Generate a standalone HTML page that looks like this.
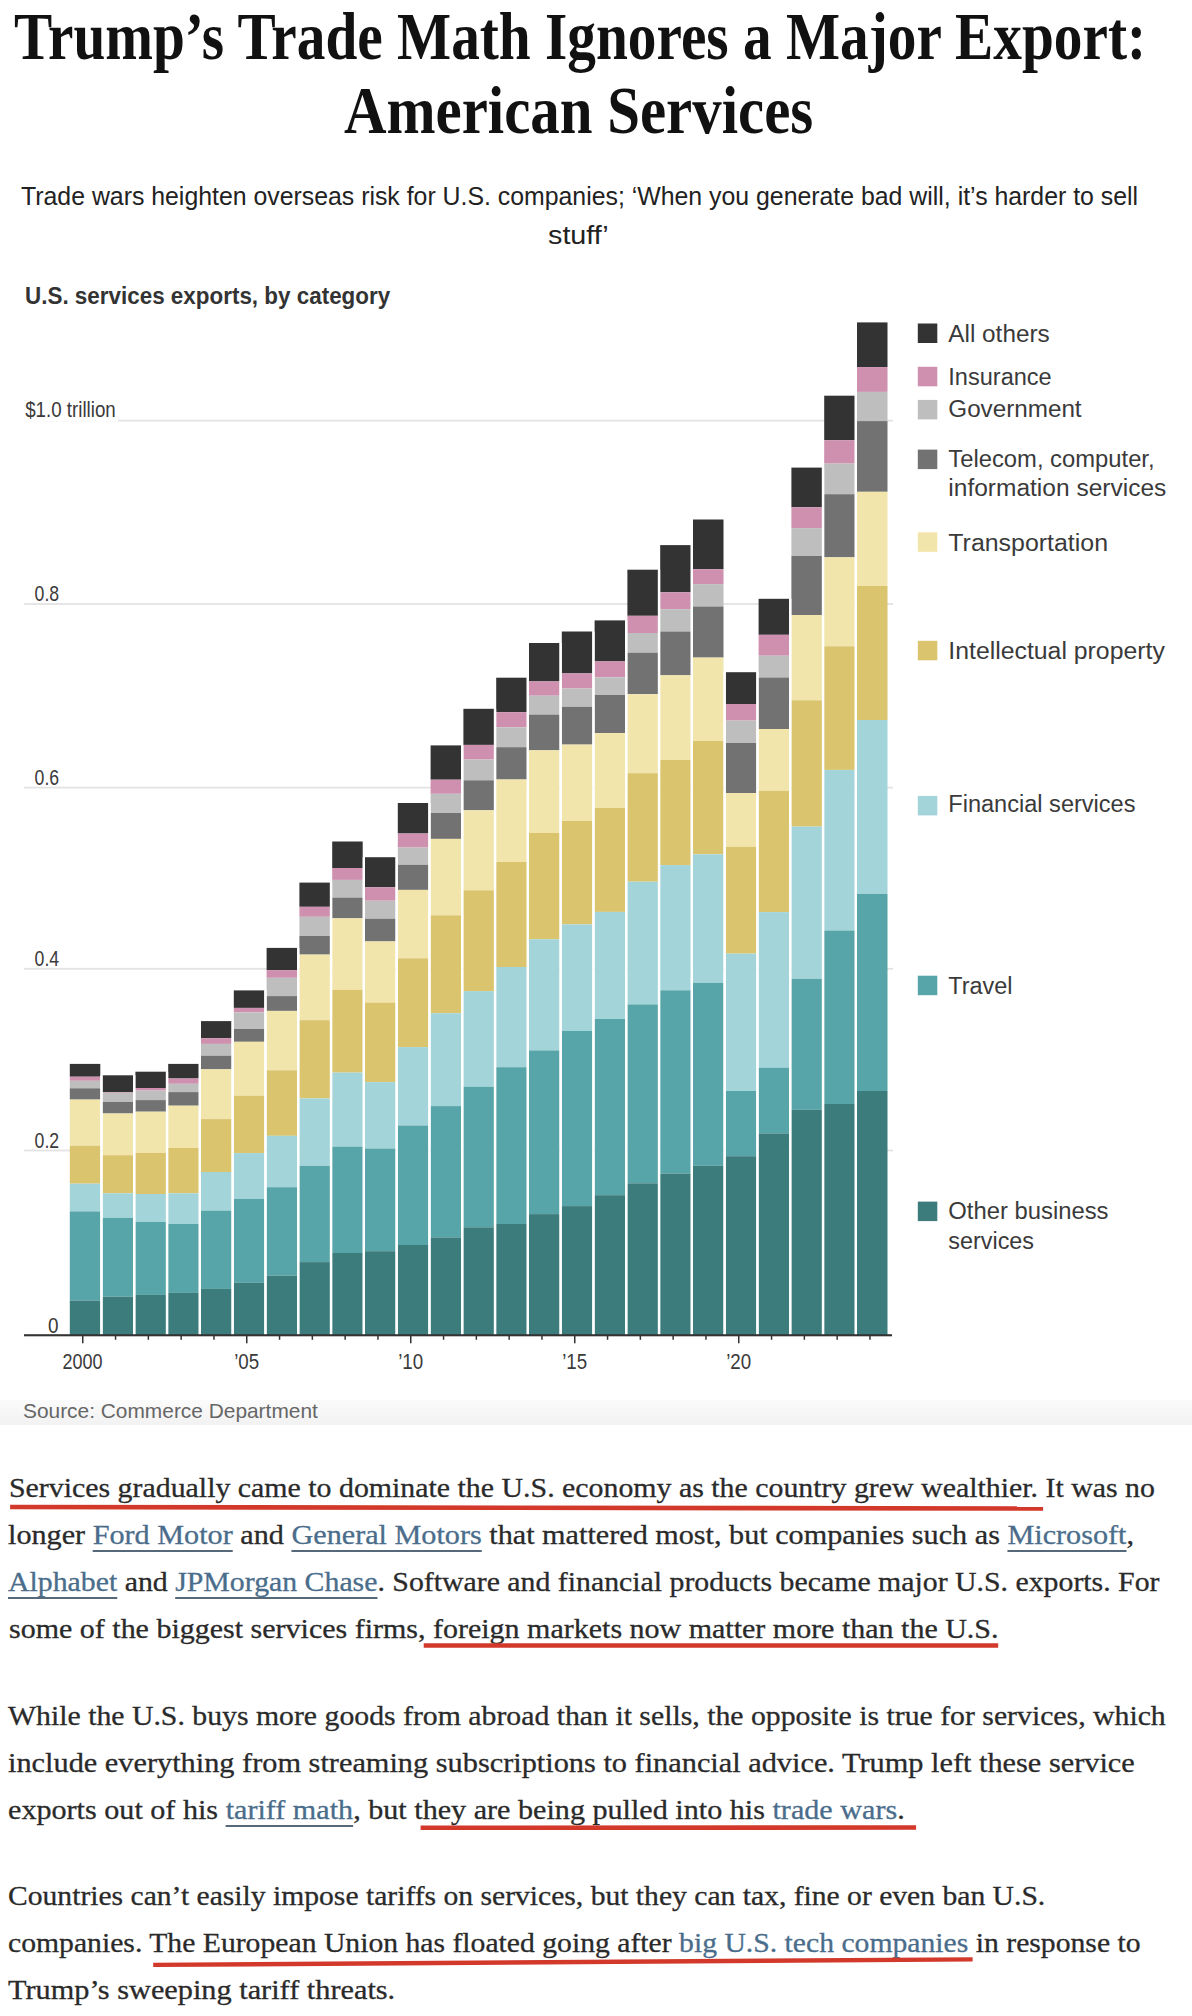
<!DOCTYPE html>
<html lang="en"><head><meta charset="utf-8"><title>Trump’s Trade Math Ignores a Major Export: American Services</title>
<style>
html,body{margin:0;padding:0;background:#fff;}
body{width:1192px;height:2016px;position:relative;overflow:hidden;}
.hl{position:absolute;left:0;width:1192px;margin:0;font-family:"Liberation Serif",serif;font-weight:700;font-size:68px;line-height:68px;color:#111;white-space:nowrap;}
.hl span{position:absolute;white-space:nowrap;transform-origin:0 0;}
.sub{position:absolute;left:0;width:1192px;margin:0;font-weight:400;font-family:"Liberation Sans",sans-serif;font-size:25px;line-height:25px;color:#222;white-space:nowrap;}
.sub span{position:absolute;white-space:nowrap;transform-origin:0 0;}
.ctitle{position:absolute;margin:0;left:25px;top:0;font-family:"Liberation Sans",sans-serif;font-weight:700;font-size:23px;line-height:23px;color:#333;white-space:nowrap;transform-origin:0 0;}
svg.chart{position:absolute;left:0;top:0;}
.src{position:absolute;left:0;top:1400px;width:1192px;height:25px;background:linear-gradient(#fbfbfb,#f2f2f2);}
.src span{position:absolute;left:24px;top:0;font-family:"Liberation Sans",sans-serif;font-size:21px;line-height:21px;color:#666;white-space:nowrap;transform-origin:0 0;}
.ln{position:absolute;margin:0;transform-origin:0 0;-webkit-text-stroke:0.3px currentColor;font-family:"Liberation Serif",serif;font-size:28px;line-height:28px;color:#2a2a2a;white-space:nowrap;}
.ln a{color:#4a6d8b;text-decoration:underline;text-decoration-color:#55697a;text-decoration-thickness:1.5px;text-underline-offset:6px;text-decoration-skip-ink:none;}
.ln a.nr{text-decoration:none;}
svg.red{position:absolute;left:0;top:0;pointer-events:none;}
</style></head>
<body>
<h1 class="hl" style="top:0"><span id="t1" style="left:14.00px;top:1.75px;transform:scaleX(0.8426)">Trump’s Trade Math Ignores a Major Export:</span><span id="t2" style="left:344.40px;top:76.25px;transform:scaleX(0.8658)">American Services</span></h1>
<h2 class="sub" style="top:0"><span id="s1" style="left:20.60px;top:184.04px;transform:scaleX(0.9937)">Trade wars heighten overseas risk for U.S. companies; ‘When you generate bad will, it’s harder to sell</span><span id="s2" style="left:548.00px;top:222.64px;transform:scaleX(1.1500)">stuff’</span></h2>
<h3 class="ctitle" id="ct" style="left:25.00px;top:285.23px;transform:scaleX(0.9750)">U.S. services exports, by category</h3>
<svg class="chart" width="1192" height="1400" viewBox="0 0 1192 1400"><rect x="24" y="419.7" width="869" height="1.8" fill="#e3e3e3"/><rect x="24" y="603.1" width="869" height="1.8" fill="#e3e3e3"/><rect x="24" y="786.7" width="869" height="1.8" fill="#e3e3e3"/><rect x="24" y="967.9" width="869" height="1.8" fill="#e3e3e3"/><rect x="24" y="1149.6" width="869" height="1.8" fill="#e3e3e3"/><rect x="69.8" y="1063.9" width="30.5" height="12.8" fill="#333333"/><rect x="69.8" y="1076.7" width="30.5" height="4.1" fill="#cf90af"/><rect x="69.8" y="1080.8" width="30.5" height="7.5" fill="#bebebe"/><rect x="69.8" y="1088.3" width="30.5" height="11.3" fill="#727272"/><rect x="69.8" y="1099.6" width="30.5" height="46.1" fill="#f2e5ab"/><rect x="69.8" y="1145.7" width="30.5" height="38" fill="#dac46d"/><rect x="69.8" y="1183.7" width="30.5" height="27.7" fill="#a2d4da"/><rect x="69.8" y="1211.4" width="30.5" height="89.1" fill="#57a5a8"/><rect x="69.8" y="1300.5" width="30.5" height="34.8" fill="#3d7c7d"/><rect x="102.6" y="1075.3" width="30.5" height="16.8" fill="#333333"/><rect x="102.6" y="1092.1" width="30.5" height="0.7" fill="#cf90af"/><rect x="102.6" y="1092.8" width="30.5" height="9.1" fill="#bebebe"/><rect x="102.6" y="1101.9" width="30.5" height="11.6" fill="#727272"/><rect x="102.6" y="1113.5" width="30.5" height="41.7" fill="#f2e5ab"/><rect x="102.6" y="1155.2" width="30.5" height="38.1" fill="#dac46d"/><rect x="102.6" y="1193.3" width="30.5" height="24.6" fill="#a2d4da"/><rect x="102.6" y="1217.9" width="30.5" height="78.8" fill="#57a5a8"/><rect x="102.6" y="1296.7" width="30.5" height="38.6" fill="#3d7c7d"/><rect x="135.4" y="1071.7" width="30.5" height="16.3" fill="#333333"/><rect x="135.4" y="1088" width="30.5" height="2.6" fill="#cf90af"/><rect x="135.4" y="1090.6" width="30.5" height="9.5" fill="#bebebe"/><rect x="135.4" y="1100.1" width="30.5" height="11.6" fill="#727272"/><rect x="135.4" y="1111.7" width="30.5" height="41.2" fill="#f2e5ab"/><rect x="135.4" y="1152.9" width="30.5" height="41.1" fill="#dac46d"/><rect x="135.4" y="1194" width="30.5" height="28" fill="#a2d4da"/><rect x="135.4" y="1222" width="30.5" height="72.9" fill="#57a5a8"/><rect x="135.4" y="1294.9" width="30.5" height="40.4" fill="#3d7c7d"/><rect x="168.2" y="1063.9" width="30.5" height="14.6" fill="#333333"/><rect x="168.2" y="1078.5" width="30.5" height="5.3" fill="#cf90af"/><rect x="168.2" y="1083.8" width="30.5" height="8.3" fill="#bebebe"/><rect x="168.2" y="1092.1" width="30.5" height="13.6" fill="#727272"/><rect x="168.2" y="1105.7" width="30.5" height="42.3" fill="#f2e5ab"/><rect x="168.2" y="1148" width="30.5" height="45.3" fill="#dac46d"/><rect x="168.2" y="1193.3" width="30.5" height="30.6" fill="#a2d4da"/><rect x="168.2" y="1223.9" width="30.5" height="69" fill="#57a5a8"/><rect x="168.2" y="1292.9" width="30.5" height="42.4" fill="#3d7c7d"/><rect x="201" y="1021.1" width="30.5" height="17.1" fill="#333333"/><rect x="201" y="1038.2" width="30.5" height="5.7" fill="#cf90af"/><rect x="201" y="1043.9" width="30.5" height="11.8" fill="#bebebe"/><rect x="201" y="1055.7" width="30.5" height="13.6" fill="#727272"/><rect x="201" y="1069.3" width="30.5" height="49.8" fill="#f2e5ab"/><rect x="201" y="1119.1" width="30.5" height="52.9" fill="#dac46d"/><rect x="201" y="1172" width="30.5" height="38.6" fill="#a2d4da"/><rect x="201" y="1210.6" width="30.5" height="78.3" fill="#57a5a8"/><rect x="201" y="1288.9" width="30.5" height="46.4" fill="#3d7c7d"/><rect x="233.8" y="990.4" width="30.5" height="17.5" fill="#333333"/><rect x="233.8" y="1007.9" width="30.5" height="4.5" fill="#cf90af"/><rect x="233.8" y="1012.4" width="30.5" height="16.6" fill="#bebebe"/><rect x="233.8" y="1029" width="30.5" height="12.8" fill="#727272"/><rect x="233.8" y="1041.8" width="30.5" height="53.9" fill="#f2e5ab"/><rect x="233.8" y="1095.7" width="30.5" height="57.4" fill="#dac46d"/><rect x="233.8" y="1153.1" width="30.5" height="45.7" fill="#a2d4da"/><rect x="233.8" y="1198.8" width="30.5" height="84" fill="#57a5a8"/><rect x="233.8" y="1282.8" width="30.5" height="52.5" fill="#3d7c7d"/><rect x="266.6" y="947.9" width="30.5" height="22.2" fill="#333333"/><rect x="266.6" y="970.1" width="30.5" height="7.7" fill="#cf90af"/><rect x="266.6" y="977.8" width="30.5" height="18.3" fill="#bebebe"/><rect x="266.6" y="996.1" width="30.5" height="14.8" fill="#727272"/><rect x="266.6" y="1010.9" width="30.5" height="59.4" fill="#f2e5ab"/><rect x="266.6" y="1070.3" width="30.5" height="65.5" fill="#dac46d"/><rect x="266.6" y="1135.8" width="30.5" height="51.4" fill="#a2d4da"/><rect x="266.6" y="1187.2" width="30.5" height="88.5" fill="#57a5a8"/><rect x="266.6" y="1275.7" width="30.5" height="59.6" fill="#3d7c7d"/><rect x="299.4" y="882.6" width="30.5" height="24.2" fill="#333333"/><rect x="299.4" y="906.8" width="30.5" height="10" fill="#cf90af"/><rect x="299.4" y="916.8" width="30.5" height="19.2" fill="#bebebe"/><rect x="299.4" y="936" width="30.5" height="18.6" fill="#727272"/><rect x="299.4" y="954.6" width="30.5" height="65.6" fill="#f2e5ab"/><rect x="299.4" y="1020.2" width="30.5" height="78.2" fill="#dac46d"/><rect x="299.4" y="1098.4" width="30.5" height="67.5" fill="#a2d4da"/><rect x="299.4" y="1165.9" width="30.5" height="96.2" fill="#57a5a8"/><rect x="299.4" y="1262.1" width="30.5" height="73.2" fill="#3d7c7d"/><rect x="332.2" y="841.5" width="30.5" height="26.5" fill="#333333"/><rect x="332.2" y="868" width="30.5" height="11.9" fill="#cf90af"/><rect x="332.2" y="879.9" width="30.5" height="17.7" fill="#bebebe"/><rect x="332.2" y="897.6" width="30.5" height="20.7" fill="#727272"/><rect x="332.2" y="918.3" width="30.5" height="71.5" fill="#f2e5ab"/><rect x="332.2" y="989.8" width="30.5" height="82.8" fill="#dac46d"/><rect x="332.2" y="1072.6" width="30.5" height="74" fill="#a2d4da"/><rect x="332.2" y="1146.6" width="30.5" height="106.4" fill="#57a5a8"/><rect x="332.2" y="1253" width="30.5" height="82.3" fill="#3d7c7d"/><rect x="365" y="857.2" width="30.5" height="30.1" fill="#333333"/><rect x="365" y="887.3" width="30.5" height="13.4" fill="#cf90af"/><rect x="365" y="900.7" width="30.5" height="18" fill="#bebebe"/><rect x="365" y="918.7" width="30.5" height="22.7" fill="#727272"/><rect x="365" y="941.4" width="30.5" height="61.2" fill="#f2e5ab"/><rect x="365" y="1002.6" width="30.5" height="79.5" fill="#dac46d"/><rect x="365" y="1082.1" width="30.5" height="66.4" fill="#a2d4da"/><rect x="365" y="1148.5" width="30.5" height="102.7" fill="#57a5a8"/><rect x="365" y="1251.2" width="30.5" height="84.1" fill="#3d7c7d"/><rect x="397.8" y="803" width="30.5" height="30.5" fill="#333333"/><rect x="397.8" y="833.5" width="30.5" height="14.1" fill="#cf90af"/><rect x="397.8" y="847.6" width="30.5" height="17.2" fill="#bebebe"/><rect x="397.8" y="864.8" width="30.5" height="25.1" fill="#727272"/><rect x="397.8" y="889.9" width="30.5" height="68.4" fill="#f2e5ab"/><rect x="397.8" y="958.3" width="30.5" height="88.8" fill="#dac46d"/><rect x="397.8" y="1047.1" width="30.5" height="78.4" fill="#a2d4da"/><rect x="397.8" y="1125.5" width="30.5" height="119.5" fill="#57a5a8"/><rect x="397.8" y="1245" width="30.5" height="90.3" fill="#3d7c7d"/><rect x="430.6" y="745.4" width="30.5" height="34.3" fill="#333333"/><rect x="430.6" y="779.7" width="30.5" height="14.1" fill="#cf90af"/><rect x="430.6" y="793.8" width="30.5" height="19.2" fill="#bebebe"/><rect x="430.6" y="813" width="30.5" height="25.9" fill="#727272"/><rect x="430.6" y="838.9" width="30.5" height="76.4" fill="#f2e5ab"/><rect x="430.6" y="915.3" width="30.5" height="97.9" fill="#dac46d"/><rect x="430.6" y="1013.2" width="30.5" height="92.9" fill="#a2d4da"/><rect x="430.6" y="1106.1" width="30.5" height="131.3" fill="#57a5a8"/><rect x="430.6" y="1237.4" width="30.5" height="97.9" fill="#3d7c7d"/><rect x="463.4" y="708.8" width="30.5" height="36.1" fill="#333333"/><rect x="463.4" y="744.9" width="30.5" height="14.6" fill="#cf90af"/><rect x="463.4" y="759.5" width="30.5" height="20.8" fill="#bebebe"/><rect x="463.4" y="780.3" width="30.5" height="30" fill="#727272"/><rect x="463.4" y="810.3" width="30.5" height="80" fill="#f2e5ab"/><rect x="463.4" y="890.3" width="30.5" height="100.8" fill="#dac46d"/><rect x="463.4" y="991.1" width="30.5" height="95.6" fill="#a2d4da"/><rect x="463.4" y="1086.7" width="30.5" height="140.6" fill="#57a5a8"/><rect x="463.4" y="1227.3" width="30.5" height="108" fill="#3d7c7d"/><rect x="496.2" y="677.7" width="30.5" height="34.5" fill="#333333"/><rect x="496.2" y="712.2" width="30.5" height="15.1" fill="#cf90af"/><rect x="496.2" y="727.3" width="30.5" height="19.9" fill="#bebebe"/><rect x="496.2" y="747.2" width="30.5" height="32.3" fill="#727272"/><rect x="496.2" y="779.5" width="30.5" height="82.5" fill="#f2e5ab"/><rect x="496.2" y="862" width="30.5" height="105" fill="#dac46d"/><rect x="496.2" y="967" width="30.5" height="100.2" fill="#a2d4da"/><rect x="496.2" y="1067.2" width="30.5" height="156.8" fill="#57a5a8"/><rect x="496.2" y="1224" width="30.5" height="111.3" fill="#3d7c7d"/><rect x="529" y="643" width="30.5" height="38.4" fill="#333333"/><rect x="529" y="681.4" width="30.5" height="14.3" fill="#cf90af"/><rect x="529" y="695.7" width="30.5" height="18.9" fill="#bebebe"/><rect x="529" y="714.6" width="30.5" height="35.7" fill="#727272"/><rect x="529" y="750.3" width="30.5" height="82.7" fill="#f2e5ab"/><rect x="529" y="833" width="30.5" height="106.3" fill="#dac46d"/><rect x="529" y="939.3" width="30.5" height="111.1" fill="#a2d4da"/><rect x="529" y="1050.4" width="30.5" height="163.7" fill="#57a5a8"/><rect x="529" y="1214.1" width="30.5" height="121.2" fill="#3d7c7d"/><rect x="561.8" y="631.5" width="30.5" height="41.9" fill="#333333"/><rect x="561.8" y="673.4" width="30.5" height="15.1" fill="#cf90af"/><rect x="561.8" y="688.5" width="30.5" height="18.3" fill="#bebebe"/><rect x="561.8" y="706.8" width="30.5" height="37.8" fill="#727272"/><rect x="561.8" y="744.6" width="30.5" height="76.4" fill="#f2e5ab"/><rect x="561.8" y="821" width="30.5" height="103.4" fill="#dac46d"/><rect x="561.8" y="924.4" width="30.5" height="106.6" fill="#a2d4da"/><rect x="561.8" y="1031" width="30.5" height="175.1" fill="#57a5a8"/><rect x="561.8" y="1206.1" width="30.5" height="129.2" fill="#3d7c7d"/><rect x="594.6" y="620.4" width="30.5" height="41" fill="#333333"/><rect x="594.6" y="661.4" width="30.5" height="15.9" fill="#cf90af"/><rect x="594.6" y="677.3" width="30.5" height="17.7" fill="#bebebe"/><rect x="594.6" y="695" width="30.5" height="38.1" fill="#727272"/><rect x="594.6" y="733.1" width="30.5" height="74.9" fill="#f2e5ab"/><rect x="594.6" y="808" width="30.5" height="103.9" fill="#dac46d"/><rect x="594.6" y="911.9" width="30.5" height="107.1" fill="#a2d4da"/><rect x="594.6" y="1019" width="30.5" height="176.2" fill="#57a5a8"/><rect x="594.6" y="1195.2" width="30.5" height="140.1" fill="#3d7c7d"/><rect x="627.4" y="569.7" width="30.5" height="46.1" fill="#333333"/><rect x="627.4" y="615.8" width="30.5" height="17.2" fill="#cf90af"/><rect x="627.4" y="633" width="30.5" height="19.7" fill="#bebebe"/><rect x="627.4" y="652.7" width="30.5" height="41.5" fill="#727272"/><rect x="627.4" y="694.2" width="30.5" height="79" fill="#f2e5ab"/><rect x="627.4" y="773.2" width="30.5" height="108.5" fill="#dac46d"/><rect x="627.4" y="881.7" width="30.5" height="122.7" fill="#a2d4da"/><rect x="627.4" y="1004.4" width="30.5" height="178.9" fill="#57a5a8"/><rect x="627.4" y="1183.3" width="30.5" height="152" fill="#3d7c7d"/><rect x="660.2" y="545.1" width="30.5" height="47.2" fill="#333333"/><rect x="660.2" y="592.3" width="30.5" height="16.9" fill="#cf90af"/><rect x="660.2" y="609.2" width="30.5" height="22.3" fill="#bebebe"/><rect x="660.2" y="631.5" width="30.5" height="43.8" fill="#727272"/><rect x="660.2" y="675.3" width="30.5" height="84.7" fill="#f2e5ab"/><rect x="660.2" y="760" width="30.5" height="105.1" fill="#dac46d"/><rect x="660.2" y="865.1" width="30.5" height="125.2" fill="#a2d4da"/><rect x="660.2" y="990.3" width="30.5" height="183.3" fill="#57a5a8"/><rect x="660.2" y="1173.6" width="30.5" height="161.7" fill="#3d7c7d"/><rect x="693" y="519.5" width="30.5" height="49.7" fill="#333333"/><rect x="693" y="569.2" width="30.5" height="14.9" fill="#cf90af"/><rect x="693" y="584.1" width="30.5" height="22.4" fill="#bebebe"/><rect x="693" y="606.5" width="30.5" height="51.1" fill="#727272"/><rect x="693" y="657.6" width="30.5" height="83.4" fill="#f2e5ab"/><rect x="693" y="741" width="30.5" height="113.3" fill="#dac46d"/><rect x="693" y="854.3" width="30.5" height="128.5" fill="#a2d4da"/><rect x="693" y="982.8" width="30.5" height="183" fill="#57a5a8"/><rect x="693" y="1165.8" width="30.5" height="169.5" fill="#3d7c7d"/><rect x="725.8" y="672.2" width="30.5" height="31.8" fill="#333333"/><rect x="725.8" y="704" width="30.5" height="16.6" fill="#cf90af"/><rect x="725.8" y="720.6" width="30.5" height="22.4" fill="#bebebe"/><rect x="725.8" y="743" width="30.5" height="50.1" fill="#727272"/><rect x="725.8" y="793.1" width="30.5" height="53.7" fill="#f2e5ab"/><rect x="725.8" y="846.8" width="30.5" height="106.8" fill="#dac46d"/><rect x="725.8" y="953.6" width="30.5" height="137.4" fill="#a2d4da"/><rect x="725.8" y="1091" width="30.5" height="65.2" fill="#57a5a8"/><rect x="725.8" y="1156.2" width="30.5" height="179.1" fill="#3d7c7d"/><rect x="758.6" y="598.8" width="30.5" height="36" fill="#333333"/><rect x="758.6" y="634.8" width="30.5" height="20.9" fill="#cf90af"/><rect x="758.6" y="655.7" width="30.5" height="21.8" fill="#bebebe"/><rect x="758.6" y="677.5" width="30.5" height="51.5" fill="#727272"/><rect x="758.6" y="729" width="30.5" height="61.7" fill="#f2e5ab"/><rect x="758.6" y="790.7" width="30.5" height="121.4" fill="#dac46d"/><rect x="758.6" y="912.1" width="30.5" height="155.5" fill="#a2d4da"/><rect x="758.6" y="1067.6" width="30.5" height="65.8" fill="#57a5a8"/><rect x="758.6" y="1133.4" width="30.5" height="201.9" fill="#3d7c7d"/><rect x="791.4" y="467.6" width="30.5" height="39.7" fill="#333333"/><rect x="791.4" y="507.3" width="30.5" height="20.8" fill="#cf90af"/><rect x="791.4" y="528.1" width="30.5" height="27.9" fill="#bebebe"/><rect x="791.4" y="556" width="30.5" height="59" fill="#727272"/><rect x="791.4" y="615" width="30.5" height="85.3" fill="#f2e5ab"/><rect x="791.4" y="700.3" width="30.5" height="126.3" fill="#dac46d"/><rect x="791.4" y="826.6" width="30.5" height="152.2" fill="#a2d4da"/><rect x="791.4" y="978.8" width="30.5" height="131" fill="#57a5a8"/><rect x="791.4" y="1109.8" width="30.5" height="225.5" fill="#3d7c7d"/><rect x="824.2" y="395.7" width="30.5" height="44.5" fill="#333333"/><rect x="824.2" y="440.2" width="30.5" height="23.4" fill="#cf90af"/><rect x="824.2" y="463.6" width="30.5" height="30.6" fill="#bebebe"/><rect x="824.2" y="494.2" width="30.5" height="63.1" fill="#727272"/><rect x="824.2" y="557.3" width="30.5" height="89" fill="#f2e5ab"/><rect x="824.2" y="646.3" width="30.5" height="123.6" fill="#dac46d"/><rect x="824.2" y="769.9" width="30.5" height="160.6" fill="#a2d4da"/><rect x="824.2" y="930.5" width="30.5" height="173.5" fill="#57a5a8"/><rect x="824.2" y="1104" width="30.5" height="231.3" fill="#3d7c7d"/><rect x="857" y="322.4" width="30.5" height="44.7" fill="#333333"/><rect x="857" y="367.1" width="30.5" height="24.8" fill="#cf90af"/><rect x="857" y="391.9" width="30.5" height="29.2" fill="#bebebe"/><rect x="857" y="421.1" width="30.5" height="70.7" fill="#727272"/><rect x="857" y="491.8" width="30.5" height="94.2" fill="#f2e5ab"/><rect x="857" y="586" width="30.5" height="134" fill="#dac46d"/><rect x="857" y="720" width="30.5" height="173.9" fill="#a2d4da"/><rect x="857" y="893.9" width="30.5" height="197.1" fill="#57a5a8"/><rect x="857" y="1091" width="30.5" height="244.3" fill="#3d7c7d"/><rect x="100.3" y="1075.3" width="2.3" height="260" fill="#fff"/><rect x="133.1" y="1075.3" width="2.3" height="260" fill="#fff"/><rect x="165.9" y="1071.7" width="2.3" height="263.6" fill="#fff"/><rect x="198.7" y="1063.9" width="2.3" height="271.4" fill="#fff"/><rect x="231.5" y="1021.1" width="2.3" height="314.2" fill="#fff"/><rect x="264.3" y="990.4" width="2.3" height="344.9" fill="#fff"/><rect x="297.1" y="947.9" width="2.3" height="387.4" fill="#fff"/><rect x="329.9" y="882.6" width="2.3" height="452.7" fill="#fff"/><rect x="362.7" y="857.2" width="2.3" height="478.1" fill="#fff"/><rect x="395.5" y="857.2" width="2.3" height="478.1" fill="#fff"/><rect x="428.3" y="803" width="2.3" height="532.3" fill="#fff"/><rect x="461.1" y="745.4" width="2.3" height="589.9" fill="#fff"/><rect x="493.9" y="708.8" width="2.3" height="626.5" fill="#fff"/><rect x="526.7" y="677.7" width="2.3" height="657.6" fill="#fff"/><rect x="559.5" y="643" width="2.3" height="692.3" fill="#fff"/><rect x="592.3" y="631.5" width="2.3" height="703.8" fill="#fff"/><rect x="625.1" y="620.4" width="2.3" height="714.9" fill="#fff"/><rect x="657.9" y="569.7" width="2.3" height="765.6" fill="#fff"/><rect x="690.7" y="545.1" width="2.3" height="790.2" fill="#fff"/><rect x="723.5" y="672.2" width="2.3" height="663.1" fill="#fff"/><rect x="756.3" y="672.2" width="2.3" height="663.1" fill="#fff"/><rect x="789.1" y="598.8" width="2.3" height="736.5" fill="#fff"/><rect x="821.9" y="467.6" width="2.3" height="867.7" fill="#fff"/><rect x="854.7" y="395.7" width="2.3" height="939.6" fill="#fff"/><rect x="22" y="399.6" width="96" height="22" fill="#fff"/><text x="25.2" y="417.3" font-family="Liberation Sans" font-size="21.5" fill="#3a3a3a" textLength="90.6" lengthAdjust="spacingAndGlyphs">$1.0 trillion</text><text x="34.6" y="601.4" font-family="Liberation Sans" font-size="21.5" fill="#3a3a3a" textLength="24.5" lengthAdjust="spacingAndGlyphs">0.8</text><text x="34.6" y="785" font-family="Liberation Sans" font-size="21.5" fill="#3a3a3a" textLength="24.5" lengthAdjust="spacingAndGlyphs">0.6</text><text x="34.6" y="966.2" font-family="Liberation Sans" font-size="21.5" fill="#3a3a3a" textLength="24.5" lengthAdjust="spacingAndGlyphs">0.4</text><text x="34.6" y="1147.9" font-family="Liberation Sans" font-size="21.5" fill="#3a3a3a" textLength="24.5" lengthAdjust="spacingAndGlyphs">0.2</text><text x="48" y="1332.5" font-family="Liberation Sans" font-size="21.5" fill="#3a3a3a" textLength="10.5" lengthAdjust="spacingAndGlyphs">0</text><rect x="24" y="1334.2" width="868" height="2.1" fill="#333"/><rect x="82" y="1335.3" width="1.5" height="8" fill="#333"/><rect x="114.8" y="1335.3" width="1.5" height="4.5" fill="#333"/><rect x="147.6" y="1335.3" width="1.5" height="4.5" fill="#333"/><rect x="180.4" y="1335.3" width="1.5" height="4.5" fill="#333"/><rect x="213.2" y="1335.3" width="1.5" height="4.5" fill="#333"/><rect x="246" y="1335.3" width="1.5" height="8" fill="#333"/><rect x="278.8" y="1335.3" width="1.5" height="4.5" fill="#333"/><rect x="311.6" y="1335.3" width="1.5" height="4.5" fill="#333"/><rect x="344.4" y="1335.3" width="1.5" height="4.5" fill="#333"/><rect x="377.2" y="1335.3" width="1.5" height="4.5" fill="#333"/><rect x="410" y="1335.3" width="1.5" height="8" fill="#333"/><rect x="442.8" y="1335.3" width="1.5" height="4.5" fill="#333"/><rect x="475.6" y="1335.3" width="1.5" height="4.5" fill="#333"/><rect x="508.4" y="1335.3" width="1.5" height="4.5" fill="#333"/><rect x="541.2" y="1335.3" width="1.5" height="4.5" fill="#333"/><rect x="574" y="1335.3" width="1.5" height="8" fill="#333"/><rect x="606.8" y="1335.3" width="1.5" height="4.5" fill="#333"/><rect x="639.6" y="1335.3" width="1.5" height="4.5" fill="#333"/><rect x="672.4" y="1335.3" width="1.5" height="4.5" fill="#333"/><rect x="705.2" y="1335.3" width="1.5" height="4.5" fill="#333"/><rect x="738" y="1335.3" width="1.5" height="8" fill="#333"/><rect x="770.8" y="1335.3" width="1.5" height="4.5" fill="#333"/><rect x="803.6" y="1335.3" width="1.5" height="4.5" fill="#333"/><rect x="836.4" y="1335.3" width="1.5" height="4.5" fill="#333"/><rect x="869.2" y="1335.3" width="1.5" height="4.5" fill="#333"/><text x="62.4" y="1369.2" font-family="Liberation Sans" font-size="21.5" fill="#3a3a3a" textLength="40" lengthAdjust="spacingAndGlyphs">2000</text><text x="234.2" y="1369.2" font-family="Liberation Sans" font-size="21.5" fill="#3a3a3a" textLength="25" lengthAdjust="spacingAndGlyphs">’05</text><text x="398.2" y="1369.2" font-family="Liberation Sans" font-size="21.5" fill="#3a3a3a" textLength="25" lengthAdjust="spacingAndGlyphs">’10</text><text x="562.2" y="1369.2" font-family="Liberation Sans" font-size="21.5" fill="#3a3a3a" textLength="25" lengthAdjust="spacingAndGlyphs">’15</text><text x="726.2" y="1369.2" font-family="Liberation Sans" font-size="21.5" fill="#3a3a3a" textLength="25" lengthAdjust="spacingAndGlyphs">’20</text><rect x="917.8" y="323.5" width="19.5" height="19.5" fill="#333333"/><text x="948.3" y="341.8" font-family="Liberation Sans" font-size="23" fill="#3a3a3a" textLength="101.4" lengthAdjust="spacingAndGlyphs">All others</text><rect x="917.8" y="366.8" width="19.5" height="19.5" fill="#cf90af"/><text x="948.3" y="384.7" font-family="Liberation Sans" font-size="23" fill="#3a3a3a" textLength="103.4" lengthAdjust="spacingAndGlyphs">Insurance</text><rect x="917.8" y="399.9" width="19.5" height="19.5" fill="#bebebe"/><text x="948.3" y="417" font-family="Liberation Sans" font-size="23" fill="#3a3a3a" textLength="133.3" lengthAdjust="spacingAndGlyphs">Government</text><rect x="917.8" y="449.6" width="19.5" height="19.5" fill="#727272"/><text x="948.3" y="466.8" font-family="Liberation Sans" font-size="23" fill="#3a3a3a" textLength="206.3" lengthAdjust="spacingAndGlyphs">Telecom, computer,</text><text x="948.3" y="496.2" font-family="Liberation Sans" font-size="23" fill="#3a3a3a" textLength="218.0" lengthAdjust="spacingAndGlyphs">information services</text><rect x="917.8" y="532.3" width="19.5" height="19.5" fill="#f2e5ab"/><text x="948.3" y="551.3" font-family="Liberation Sans" font-size="23" fill="#3a3a3a" textLength="159.7" lengthAdjust="spacingAndGlyphs">Transportation</text><rect x="917.8" y="640.8" width="19.5" height="19.5" fill="#dac46d"/><text x="948.3" y="659.2" font-family="Liberation Sans" font-size="23" fill="#3a3a3a" textLength="216.5" lengthAdjust="spacingAndGlyphs">Intellectual property</text><rect x="917.8" y="795.9" width="19.5" height="19.5" fill="#a2d4da"/><text x="948.3" y="812.3" font-family="Liberation Sans" font-size="23" fill="#3a3a3a" textLength="187.2" lengthAdjust="spacingAndGlyphs">Financial services</text><rect x="917.8" y="975.7" width="19.5" height="19.5" fill="#57a5a8"/><text x="948.3" y="993.6" font-family="Liberation Sans" font-size="23" fill="#3a3a3a" textLength="64.2" lengthAdjust="spacingAndGlyphs">Travel</text><rect x="917.8" y="1201.6" width="19.5" height="19.5" fill="#3d7c7d"/><text x="948.3" y="1219.2" font-family="Liberation Sans" font-size="23" fill="#3a3a3a" textLength="160.2" lengthAdjust="spacingAndGlyphs">Other business</text><text x="948.3" y="1248.6" font-family="Liberation Sans" font-size="23" fill="#3a3a3a" textLength="85.7" lengthAdjust="spacingAndGlyphs">services</text></svg>
<div class="src"><span id="src" style="left:22.80px;top:-0.08px;transform:scaleX(0.9945)">Source: Commerce Department</span></div>
<article>
<p class="ln" id="l0" style="top:1474.30px;left:8.6px;transform:scaleX(1.0664)"><span class="r">Services gradually came to dominate the U.S. economy as the country grew wealthier.</span> It was no</p><p class="ln" id="l1" style="top:1521.15px;left:8.1px;transform:scaleX(1.0782)">longer <a>Ford Motor</a> and <a>General Motors</a> that mattered most, but companies such as <a>Microsoft</a>,</p><p class="ln" id="l2" style="top:1567.95px;left:8.1px;transform:scaleX(1.0643)"><a>Alphabet</a> and <a>JPMorgan Chase</a>. Software and financial products became major U.S. exports. For</p><p class="ln" id="l3" style="top:1614.75px;left:8.6px;transform:scaleX(1.0712)">some of the biggest services firms,<span class="r"> foreign markets now matter more than the U.S.</span></p><p class="ln" id="l4" style="top:1702.35px;left:8.3px;transform:scaleX(1.0627)">While the U.S. buys more goods from abroad than it sells, the opposite is true for services, which</p><p class="ln" id="l5" style="top:1749.05px;left:8.3px;transform:scaleX(1.0830)">include everything from streaming subscriptions to financial advice. Trump left these service</p><p class="ln" id="l6" style="top:1795.75px;left:8.3px;transform:scaleX(1.0763)">exports out of his <a>tariff math</a>, but<span class="r"> they are being pulled into his </span><a class="nr">trade wars</a><span class="r">. </span></p><p class="ln" id="l7" style="top:1882.35px;left:8.3px;transform:scaleX(1.0573)">Countries can’t easily impose tariffs on services, but they can tax, fine or even ban U.S.</p><p class="ln" id="l8" style="top:1929.05px;left:8.3px;transform:scaleX(1.0598)">companies.<span class="r"> The European Union has floated going after </span><a class="nr">big U.S. tech companies</a><span class="r"> </span>in response to</p><p class="ln" id="l9" style="top:1975.75px;left:8.3px;transform:scaleX(1.0823)">Trump’s sweeping tariff threats.</p>
</article>
<svg class="red" width="1192" height="2016" viewBox="0 0 1192 2016"><polygon points="10.1,1504.7 1043.1,1506.2 1043.1,1510.8 10.1,1509.3" fill="#d2392a"/><polygon points="423.7,1643.2 998.2,1643.2 998.2,1647.8 423.7,1647.8" fill="#d2392a"/><polygon points="420.6,1825.5 916.1,1825.2 916.1,1829.8 420.6,1830.1" fill="#d2392a"/><polygon points="153.2,1962.7 972.6,1957.2 972.6,1961.6000000000001 153.2,1967.1000000000001" fill="#d2392a"/></svg>
</body></html>
